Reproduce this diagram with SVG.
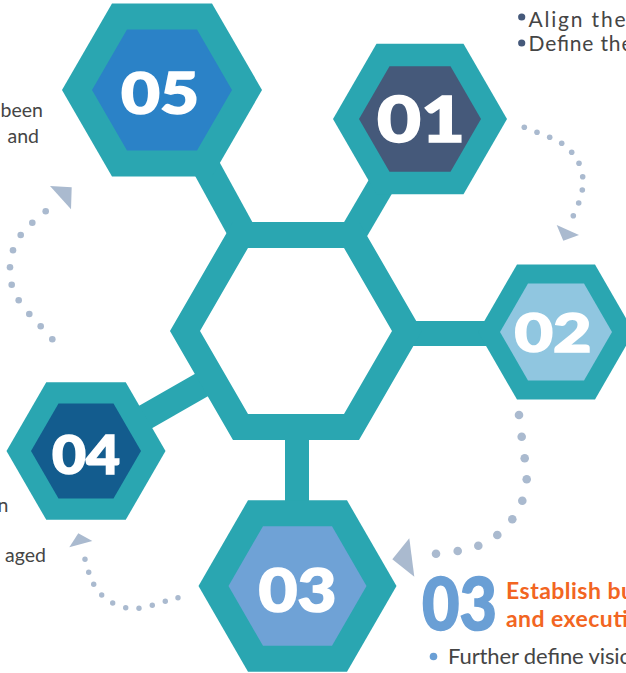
<svg xmlns="http://www.w3.org/2000/svg" width="626" height="673" viewBox="0 0 626 673">
<style>
.teal{fill:#2aa6b1}
.bar{stroke:#2aa6b1;fill:none;stroke-linecap:butt}
.dot{fill:#aabacf}
.arrow{fill:#aabacf}
.num{font-family:Lato,"Open Sans",sans-serif;font-weight:900;fill:#ffffff;stroke:#ffffff;stroke-width:1.6px;text-anchor:middle}
.body{font-family:Lato,"Liberation Sans",sans-serif;font-size:19.5px;fill:#454545}
.head{font-family:Lato,"Liberation Sans",sans-serif;font-weight:700;font-size:23px;fill:#f26522}
</style>
<rect width="626" height="673" fill="#ffffff"/>
<g id="connectors">
  <line class="bar" x1="296" y1="331" x2="420" y2="119" stroke-width="27"/>
  <line class="bar" x1="296" y1="331" x2="164" y2="90" stroke-width="28"/>
  <line class="bar" x1="296" y1="333.5" x2="556" y2="333.5" stroke-width="25"/>
  <line class="bar" x1="297" y1="331" x2="297" y2="586" stroke-width="24"/>
  <line class="bar" x1="296" y1="331" x2="86" y2="451" stroke-width="26"/>
  <g id="arc-01-02">
    <circle class="dot" cx="524.3" cy="127.3" r="2.8"/>
    <circle class="dot" cx="537" cy="132.3" r="2.8"/>
    <circle class="dot" cx="549.7" cy="137.3" r="2.8"/>
    <circle class="dot" cx="561.7" cy="143.3" r="2.8"/>
    <circle class="dot" cx="571.7" cy="152.3" r="2.8"/>
    <circle class="dot" cx="579" cy="163.3" r="2.8"/>
    <circle class="dot" cx="582.7" cy="176.7" r="2.8"/>
    <circle class="dot" cx="582.3" cy="190" r="2.8"/>
    <circle class="dot" cx="578.7" cy="203" r="2.8"/>
    <circle class="dot" cx="573.3" cy="215.7" r="2.8"/>
    <polygon class="arrow" points="556.7,225 579,235 563.3,240.7"/>
  </g>
  <g id="arc-02-03">
    <circle class="dot" cx="519" cy="415" r="4.3"/>
    <circle class="dot" cx="521.7" cy="436.7" r="4.3"/>
    <circle class="dot" cx="524.7" cy="458.3" r="4.3"/>
    <circle class="dot" cx="526.7" cy="479.3" r="4.3"/>
    <circle class="dot" cx="522.3" cy="500.7" r="4.3"/>
    <circle class="dot" cx="512.3" cy="519.3" r="4.3"/>
    <circle class="dot" cx="497.3" cy="535" r="4.3"/>
    <circle class="dot" cx="478.3" cy="545.7" r="4.3"/>
    <circle class="dot" cx="457.7" cy="551" r="4.3"/>
    <circle class="dot" cx="436" cy="553.7" r="4.3"/>
    <polygon class="arrow" points="409.3,538.3 392.3,559.3 414.3,576.7"/>
  </g>
  <g id="arc-03-04">
    <circle class="dot" cx="85" cy="559.3" r="2.7"/>
    <circle class="dot" cx="88.7" cy="572.3" r="2.7"/>
    <circle class="dot" cx="93.7" cy="584.3" r="2.7"/>
    <circle class="dot" cx="101.7" cy="595" r="2.7"/>
    <circle class="dot" cx="112.7" cy="603" r="2.7"/>
    <circle class="dot" cx="125.7" cy="607.7" r="2.7"/>
    <circle class="dot" cx="139" cy="608.3" r="2.7"/>
    <circle class="dot" cx="152.3" cy="605.3" r="2.7"/>
    <circle class="dot" cx="165.3" cy="601.3" r="2.7"/>
    <circle class="dot" cx="178" cy="597.7" r="2.7"/>
    <polygon class="arrow" points="78.3,533.3 92.3,541 69.3,547.3"/>
  </g>
  <g id="arc-04-05">
    <circle class="dot" cx="45.7" cy="211.3" r="3.3"/>
    <circle class="dot" cx="32.3" cy="222.7" r="3.3"/>
    <circle class="dot" cx="20.7" cy="235" r="3.3"/>
    <circle class="dot" cx="13" cy="250.3" r="3.3"/>
    <circle class="dot" cx="10" cy="267.3" r="3.3"/>
    <circle class="dot" cx="11.7" cy="284.7" r="3.3"/>
    <circle class="dot" cx="18.7" cy="300.3" r="3.3"/>
    <circle class="dot" cx="29.3" cy="314" r="3.3"/>
    <circle class="dot" cx="40.7" cy="326.3" r="3.3"/>
    <circle class="dot" cx="52.3" cy="339.3" r="3.3"/>
    <polygon class="arrow" points="50,186 71.7,187.3 71,209.3"/>
  </g>
</g>
<g id="center">
  <polygon points="407,331 351.5,427.1 240.5,427.1 185,331 240.5,234.9 351.5,234.9" fill="#ffffff" stroke="#2aa6b1" stroke-width="26" stroke-linejoin="miter"/>
</g>
<g id="node-01">
  <polygon class="teal" points="507,119 463.5,194.3 376.5,194.3 333,119 376.5,43.7 463.5,43.7"/>
  <polygon fill="#45597a" points="481,119 450.5,171.8 389.5,171.8 359,119 389.5,66.2 450.5,66.2"/>
  <text class="num" x="421" y="141.5" font-size="62" textLength="88" lengthAdjust="spacingAndGlyphs">01</text>
</g>
<g id="node-05">
  <polygon class="teal" points="262,90 212,176.6 112,176.6 62,90 112,3.4 212,3.4"/>
  <polygon fill="#2b82c7" points="232,90 197,150.6 127,150.6 92,90 127,29.4 197,29.4"/>
  <text class="num" x="160" y="114" font-size="58" textLength="78" lengthAdjust="spacingAndGlyphs">05</text>
</g>
<g id="node-02">
  <polygon class="teal" points="634,332 595,399.5 517,399.5 478,332 517,264.4 595,264.4"/>
  <polygon fill="#90c6e0" points="612,332 584,380.5 528,380.5 500,332 528,283.5 584,283.5"/>
  <text class="num" x="553" y="352" font-size="54" textLength="77" lengthAdjust="spacingAndGlyphs">02</text>
</g>
<g id="node-03">
  <polygon class="teal" points="396.5,586 347,671.7 248,671.7 198.5,586 248,500.3 347,500.3"/>
  <polygon fill="#6fa2d6" points="366.5,586 332,645.8 263,645.8 228.5,586 263,526.2 332,526.2"/>
  <text class="num" x="297.5" y="612" font-size="60" textLength="78" lengthAdjust="spacingAndGlyphs">03</text>
</g>
<g id="node-04">
  <polygon class="teal" points="165.5,451 125.75,519.85 46.25,519.85 6.5,451 46.25,382.15 125.75,382.15"/>
  <polygon fill="#135c8e" points="141,451 113.5,498.6 58.5,498.6 31,451 58.5,403.4 113.5,403.4"/>
  <text class="num" x="86" y="474" font-size="54" textLength="68" lengthAdjust="spacingAndGlyphs">04</text>
</g>
<g id="text-top-right">
  <circle cx="521.7" cy="17" r="3.6" fill="#45597a"/>
  <text class="body" x="528.5" y="26.5" style="font-size:21px" textLength="97">Align the</text>
  <circle cx="521.7" cy="43" r="3.6" fill="#45597a"/>
  <text class="body" x="528.5" y="51" style="font-size:21px" textLength="104">Define the</text>
</g>
<g id="text-left">
  <text class="body" x="43" y="117" text-anchor="end">been</text>
  <text class="body" x="39" y="143" text-anchor="end">and</text>
  <text class="body" x="8.5" y="512" text-anchor="end">n</text>
  <text class="body" x="46" y="562" text-anchor="end">aged</text>
</g>
<g id="text-bottom-right">
  <text class="num" x="459.5" y="630" font-size="72" textLength="75" lengthAdjust="spacingAndGlyphs" style="fill:#6a9fd5;stroke:#6a9fd5">03</text>
  <text class="head" x="506" y="599" textLength="128">Establish bu</text>
  <text class="head" x="506" y="627" textLength="122">and executi</text>
  <circle cx="433.5" cy="656.5" r="3.8" fill="#6a9fd5"/>
  <text class="body" x="448" y="663.5" style="font-size:22px" textLength="184">Further define visio</text>
</g>
</svg>
